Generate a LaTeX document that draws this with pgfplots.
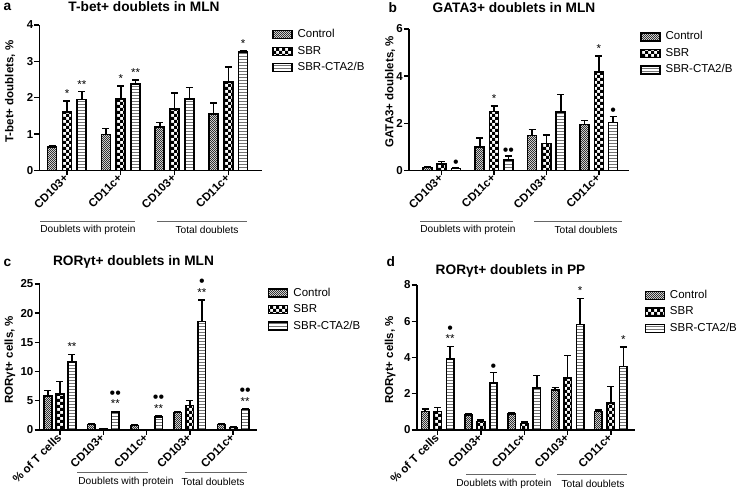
\documentclass[border=0pt]{standalone}
\usepackage{pgfplots}
\pgfplotsset{compat=1.18}
\usepackage{fontspec}
\setmainfont{Liberation Sans}
\usetikzlibrary{patterns}
\pgfdeclarepatternformonly{bigchecker}{\pgfqpoint{-.1pt}{-.1pt}}{\pgfqpoint{6.1pt}{6.1pt}}{\pgfqpoint{6pt}{6pt}}{%
 \pgfpathrectangle{\pgfpointorigin}{\pgfqpoint{3.05pt}{3.05pt}}%
 \pgfpathrectangle{\pgfqpoint{3pt}{3pt}}{\pgfqpoint{3.05pt}{3.05pt}}%
 \pgfusepath{fill}}
\pgfdeclarepatternformonly{finechecker}{\pgfqpoint{-.1pt}{-.1pt}}{\pgfqpoint{2.1pt}{2.1pt}}{\pgfqpoint{2pt}{2pt}}{%
 \pgfpathrectangle{\pgfpointorigin}{\pgfqpoint{1.05pt}{1.05pt}}%
 \pgfpathrectangle{\pgfqpoint{1pt}{1pt}}{\pgfqpoint{1.05pt}{1.05pt}}%
 \pgfusepath{fill}}
\pgfdeclarepatternformonly{hstripes}{\pgfqpoint{-.1pt}{-.1pt}}{\pgfqpoint{3.1pt}{3.1pt}}{\pgfqpoint{3pt}{3pt}}{%
 \pgfpathrectangle{\pgfqpoint{-0.1pt}{0pt}}{\pgfqpoint{3.2pt}{1.4pt}}%
 \pgfusepath{fill}}
\newcommand\tfont{\bfseries\fontsize{11.5}{13}\selectfont}
\newcommand\lfont{\bfseries\fontsize{11.5}{13}\selectfont}
\newcommand\titfont{\bfseries\fontsize{13.7}{15}\selectfont}
\newcommand\legfont{\fontsize{11.5}{13}\selectfont}
\newcommand\grpfont{\fontsize{10.2}{12}\selectfont}
\newcommand\starfont{\fontsize{11.5}{12}\selectfont}
\newcommand\dotfont{\fontsize{16}{17}\selectfont}
\tikzset{
 st/.style={anchor=base, font=\starfont, inner sep=0pt, yshift=3.5pt},
 dt/.style={anchor=base, font=\dotfont, inner sep=0pt, yshift=0.5pt},
 dt2/.style={anchor=base, font=\dotfont, inner sep=0pt, yshift=13pt},
}
\pgfplotsset{
 eb/.style={error bars/y dir=plus, error bars/y explicit,
   error bars/error bar style={line width=1.5pt, black, solid},
   error bars/error mark options={rotate=90, mark size=3.5pt, line width=1.5pt, black, solid}},
 ctrl/.style={draw=black, line width=1.6pt, pattern=finechecker, pattern color=black!80, eb,
   legend image code/.code={\draw[pattern=finechecker, pattern color=black!80, draw=black, line width=1.4pt] (0pt,-4pt) rectangle (19pt,4pt);}},
 sbr/.style={draw=black, line width=1.6pt, pattern=bigchecker, pattern color=black, eb,
   legend image code/.code={\draw[pattern=bigchecker, pattern color=black, draw=black, line width=1.4pt] (0pt,-4pt) rectangle (19pt,4pt);}},
 cta/.style={draw=black, line width=1.6pt, pattern=hstripes, pattern color=black!55, eb,
   legend image code/.code={\draw[pattern=hstripes, pattern color=black!55, draw=black, line width=1.4pt] (0pt,-4pt) rectangle (19pt,4pt);}},
 base/.style={
  scale only axis, anchor=south west,
  axis x line*=bottom, axis y line*=left,
  axis line style={-, line width=1.6pt},
  tick align=outside, major tick length=5pt,
  tick style={line width=1.4pt, black},
  ymin=0, clip=false,
  /pgf/number format/assume math mode=true,
  yticklabel style={font=\tfont, inner sep=1pt},
  xticklabel style={font=\tfont, rotate=45, anchor=east, inner sep=1pt},
  legend cell align=left,
  legend style={draw=none, fill=none, font=\legfont, anchor=north west, inner sep=0pt,
    row sep=3.5pt, nodes={text height=8.5pt, text depth=2.5pt, inner sep=1pt},
    /tikz/every odd column/.append style={column sep=4pt}},
 },
}
\begin{document}
\begin{tikzpicture}
\path[use as bounding box] (0pt,0pt) rectangle (740pt,489pt);
% ---------- panel a
\begin{axis}[base, at={(39.5pt,318.5pt)}, width=222.5pt, height=145.5pt,
  ybar=5.8pt, bar width=9pt,
  xmin=-0.511, xmax=3.625, ymax=4, ytick={0,1,2,3,4},
  xtick={0,1,2,3}, xticklabels={CD103+,CD11c+,CD103+,CD11c+},
  ylabel={T-bet+ doublets, \%}, ylabel style={font=\lfont, at={(axis description cs:-0.1326,0.542)}, anchor=center},
  legend style={at={(axis description cs:1.045,0.979)}}]
\addplot+[ctrl] table[x=x,y=y,y error=e] {
x y e
0 0.64 0.04
1 0.99 0.16
2 1.19 0.13
3 1.56 0.29
};
\addplot+[sbr] table[x=x,y=y,y error=e] {
x y e
0 1.60 0.31
1 1.96 0.36
2 1.69 0.44
3 2.43 0.41
};
\addplot+[cta] table[x=x,y=y,y error=e] {
x y e
0 1.95 0.22
1 2.37 0.12
2 1.96 0.32
3 3.25 0.03
};
\legend{Control,SBR,SBR-CTA2/B}
\node[st] at (axis cs:0,1.91) {*};
\node[st,xshift=14.8pt] at (axis cs:0,2.17) {**};
\node[st] at (axis cs:1,2.32) {*};
\node[st,xshift=14.8pt] at (axis cs:1,2.49) {**};
\node[st,xshift=14.8pt] at (axis cs:3,3.28) {*};
\end{axis}
% ---------- panel b
\begin{axis}[base, at={(409pt,318.5pt)}, width=220pt, height=141.5pt,
  ybar=5.3pt, bar width=9pt,
  xmin=-0.624, xmax=3.575, ymax=6, ytick={0,2,4,6},
  xtick={0,1,2,3}, xticklabels={CD103+,CD11c+,CD103+,CD11c+},
  ylabel={GATA3+ doublets, \%}, ylabel style={font=\lfont, at={(axis description cs:-0.086,0.557)}, anchor=center},
  legend style={at={(axis description cs:1.05,0.991)}}]
\addplot+[ctrl] table[x=x,y=y,y error=e] {
x y e
0 0.12 0.03
1 0.99 0.39
2 1.48 0.26
3 1.95 0.17
};
\addplot+[sbr] table[x=x,y=y,y error=e] {
x y e
0 0.28 0.10
1 2.51 0.23
2 1.14 0.37
3 4.17 0.68
};
\addplot+[cta] table[x=x,y=y,y error=e] {
x y e
0 0.08 0.03
1 0.44 0.17
2 2.49 0.73
3 2.04 0.26
};
\legend{Control,SBR,SBR-CTA2/B}
\node[dt,xshift=14.3pt] at (axis cs:0,0.11) {•};
\node[st] at (axis cs:1,2.74) {*};
\node[dt,xshift=14.3pt] at (axis cs:1,0.61) {••};
\node[st] at (axis cs:3,4.85) {*};
\node[dt,xshift=14.3pt] at (axis cs:3,2.30) {•};
\end{axis}
% ---------- panel c
\begin{axis}[base, at={(39.5pt,59pt)}, width=217.5pt, height=146pt,
  ybar=4.5pt, bar width=7.5pt,
  xmin=-0.473, xmax=4.55, ymax=25, ytick={0,5,10,15,20,25},
  xtick={0,1,2,3,4}, xticklabels={\% of T cells,CD103+,CD11c+,CD103+,CD11c+},
  ylabel={RORγt+ cells, \%}, ylabel style={font=\lfont, at={(axis description cs:-0.136,0.48)}, anchor=center},
  legend style={at={(axis description cs:1.05,0.984)}}]
\addplot+[ctrl] table[x=x,y=y,y error=e] {
x y e
0 5.86 0.92
1 0.92 0.11
2 0.75 0.15
3 2.99 0.21
4 0.92 0.08
};
\addplot+[sbr] table[x=x,y=y,y error=e] {
x y e
0 6.15 2.18
1 0.23 0.03
2 0.10 0.02
3 4.20 0.86
4 0.46 0.05
};
\addplot+[cta] table[x=x,y=y,y error=e] {
x y e
0 11.67 1.26
1 3.10 0.10
2 2.18 0.22
3 18.56 3.74
4 3.50 0.12
};
\legend{Control,SBR,SBR-CTA2/B}
\node[st,xshift=12pt] at (axis cs:0,12.93) {**};
\node[st,xshift=12pt] at (axis cs:1,3.2) {**};
\node[dt2,xshift=12pt] at (axis cs:1,3.2) {••};
\node[st,xshift=12pt] at (axis cs:2,2.4) {**};
\node[dt2,xshift=12pt] at (axis cs:2,2.4) {••};
\node[st,xshift=12pt] at (axis cs:3,22.3) {**};
\node[dt2,xshift=12pt] at (axis cs:3,22.3) {•};
\node[st,xshift=12pt] at (axis cs:4,3.62) {**};
\node[dt2,xshift=12pt] at (axis cs:4,3.62) {••};
\end{axis}
% ---------- panel d
\begin{axis}[base, at={(416.7pt,59pt)}, width=218.3pt, height=145pt,
  ybar=5pt, bar width=7.5pt,
  xmin=-0.485, xmax=4.557, ymax=8, ytick={0,2,4,6,8},
  xtick={0,1,2,3,4}, xticklabels={\% of T cells,CD103+,CD11c+,CD103+,CD11c+},
  ylabel={RORγt+ cells, \%}, ylabel style={font=\lfont, at={(axis description cs:-0.122,0.483)}, anchor=center},
  legend style={at={(axis description cs:1.043,0.974)}}]
\addplot+[ctrl] table[x=x,y=y,y error=e] {
x y e
0 1.02 0.14
1 0.83 0.09
2 0.87 0.09
3 2.22 0.13
4 1.02 0.09
};
\addplot+[sbr] table[x=x,y=y,y error=e] {
x y e
0 1.02 0.22
1 0.46 0.09
2 0.35 0.08
3 2.87 1.23
4 1.50 0.90
};
\addplot+[cta] table[x=x,y=y,y error=e] {
x y e
0 3.92 0.70
1 2.59 0.59
2 2.31 0.70
3 5.82 1.44
4 3.51 1.06
};
\legend{Control,SBR,SBR-CTA2/B}
\node[st,xshift=12.5pt] at (axis cs:0,4.62) {**};
\node[dt2,xshift=12.5pt] at (axis cs:0,4.62) {•};
\node[dt,xshift=12.5pt] at (axis cs:1,3.18) {•};
\node[st,xshift=12.5pt] at (axis cs:3,7.26) {*};
\node[st,xshift=12.5pt] at (axis cs:4,4.57) {*};
\end{axis}
% ---------- titles and letters
\node[font=\titfont, anchor=west] at (0pt,482pt) {a};
\node[font=\titfont] at (144pt,482pt) {T-bet+ doublets in MLN};
\node[font=\titfont, anchor=west] at (385pt,481.5pt) {b};
\node[font=\titfont] at (514pt,481.5pt) {GATA3+ doublets in MLN};
\node[font=\titfont, anchor=west] at (0pt,226.5pt) {c};
\node[font=\titfont] at (133.5pt,227pt) {RORγt+ doublets in MLN};
\node[font=\titfont, anchor=west] at (383pt,227pt) {d};
\node[font=\titfont] at (510.5pt,218.5pt) {RORγt+ doublets in PP};
% ---------- group labels
\begin{scope}[draw=black!60, line width=0.9pt]
\draw (40pt,268pt) -- (135pt,268pt);
\draw (157pt,268pt) -- (247pt,268pt);
\draw (420pt,268pt) -- (513pt,268pt);
\draw (534pt,268pt) -- (622pt,268pt);
\draw (77pt,16.3pt) -- (148pt,16.3pt);
\draw (185pt,16.3pt) -- (247pt,16.3pt);
\draw (466pt,14.7pt) -- (536pt,14.7pt);
\draw (557pt,14.7pt) -- (627pt,14.7pt);
\end{scope}
\node[font=\grpfont] at (88pt,259pt) {Doublets with protein};
\node[font=\grpfont] at (207pt,259pt) {Total doublets};
\node[font=\grpfont] at (468pt,259pt) {Doublets with protein};
\node[font=\grpfont] at (586pt,259pt) {Total doublets};
\node[font=\grpfont] at (126pt,7.3pt) {Doublets with protein};
\node[font=\grpfont] at (213pt,7.3pt) {Total doublets};
\node[font=\grpfont] at (504pt,5pt) {Doublets with protein};
\node[font=\grpfont] at (593pt,5pt) {Total doublets};
\end{tikzpicture}
\end{document}
